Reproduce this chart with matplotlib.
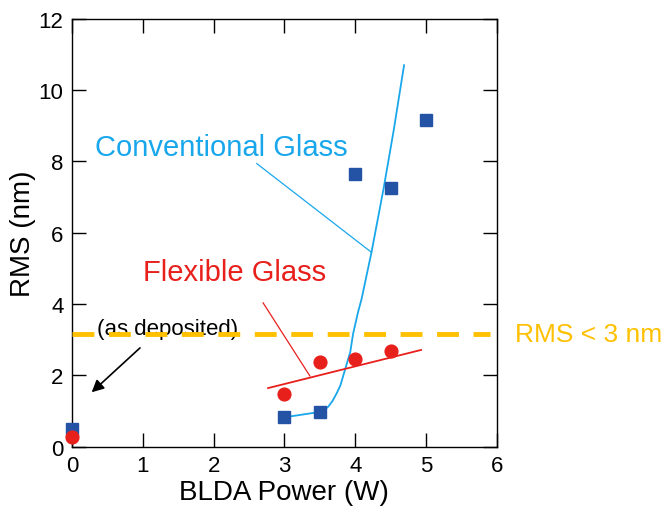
import matplotlib
matplotlib.use('Agg')
import matplotlib.pyplot as plt

plt.rcParams['font.family'] = ['Liberation Sans', 'DejaVu Sans']

# measured RMS roughness vs BLDA power
power_conv = [0, 3, 3.5, 4, 4.5, 5]
rms_conv = [0.5, 0.82, 0.97, 7.65, 7.25, 9.15]
power_flex = [0, 3, 3.5, 4, 4.5]
rms_flex = [0.28, 1.47, 2.36, 2.46, 2.67]

# hand-drawn guide curve for conventional glass
guide_conv_x = [3.0, 3.5, 3.56, 3.62, 3.68, 3.74, 3.79, 3.86, 3.93, 3.97, 4.04, 4.09, 4.23, 4.40, 4.54, 4.69]
guide_conv_y = [0.82, 0.97, 1.02, 1.12, 1.28, 1.50, 1.71, 2.18, 2.65, 3.16, 3.77, 4.14, 5.45, 7.23, 8.83, 10.70]
# linear guide for flexible glass
guide_flex_x = [2.77, 4.93]
guide_flex_y = [1.64, 2.71]

rms_limit = 3.15

c_blue_mk = '#2453a6'
c_blue_ln = '#19a7ec'
c_red = '#e8201c'
c_gold = '#ffc000'

fig = plt.figure(figsize=(6.66, 5.10), dpi=100)
ax = fig.add_axes([0.108, 0.1225, 0.638, 0.8385])

ax.plot(guide_conv_x, guide_conv_y, color=c_blue_ln, lw=1.3, zorder=2)
ax.plot(guide_flex_x, guide_flex_y, color=c_red, lw=1.3, zorder=2)
ax.plot(power_conv, rms_conv, 's', color=c_blue_mk, ms=8.6, mec=c_blue_mk, zorder=4, clip_on=False)
ax.plot(power_flex, rms_flex, 'o', color=c_red, ms=9.2, mec=c_red, zorder=5, clip_on=False)

ax.plot([0, 5.9], [rms_limit, rms_limit], color=c_gold, lw=3.5, dashes=(4.5, 3),
        zorder=3, clip_on=False)
ax.text(6.25, rms_limit, 'RMS < 3 nm', color=c_gold, fontsize=19, va='center', ha='left')

# labels with leader lines
ax.text(0.33, 8.4, 'Conventional Glass', color=c_blue_ln, fontsize=21, va='center', ha='left')
ax.plot([2.61, 4.23], [7.94, 5.45], color=c_blue_ln, lw=0.9)
ax.text(1.0, 4.9, 'Flexible Glass', color=c_red, fontsize=21, va='center', ha='left')
ax.plot([2.70, 3.36], [4.03, 1.98], color=c_red, lw=0.9)

ax.text(0.35, 3.3, '(as deposited)', color='black', fontsize=16, va='center', ha='left', zorder=2)
ax.annotate('', xy=(0.25, 1.47), xytext=(0.99, 2.82),
            arrowprops=dict(arrowstyle='-|>', color='black', lw=1.2, mutation_scale=18))

ax.set_xlim(0, 6)
ax.set_ylim(0, 12)
ax.set_xticks(range(0, 7))
ax.set_yticks(range(0, 13, 2))
ax.tick_params(direction='in', length=10, width=1, top=True, right=True,
               labelsize=16, pad=6)
for sp in ax.spines.values():
    sp.set_linewidth(1)
ax.set_xlabel('BLDA Power (W)', fontsize=20, labelpad=2)
ax.set_ylabel('RMS (nm)', fontsize=20, labelpad=2)

fig.savefig('out.png', dpi=100)
